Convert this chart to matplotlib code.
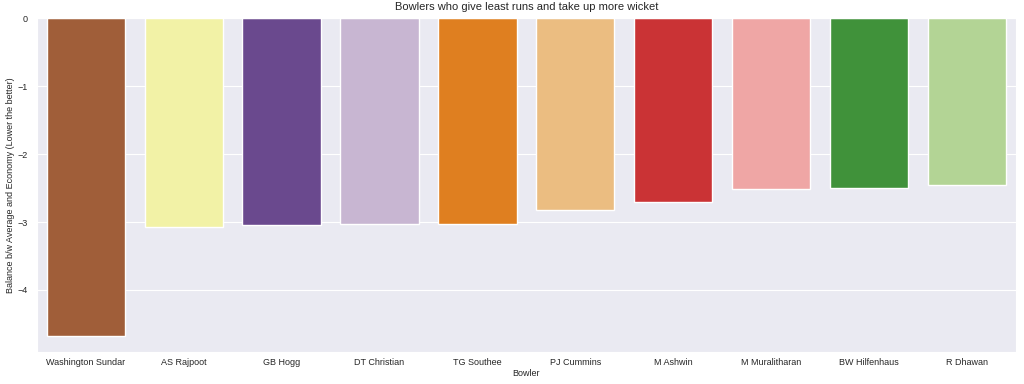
import matplotlib
matplotlib.use('Agg')
import matplotlib.pyplot as plt
import seaborn as sns

bowlers = ['Washington Sundar', 'AS Rajpoot', 'GB Hogg', 'DT Christian', 'TG Southee',
           'PJ Cummins', 'M Ashwin', 'M Muralitharan', 'BW Hilfenhaus', 'R Dhawan']
balance = [-4.68, -3.07, -3.04, -3.03, -3.03, -2.82, -2.71, -2.51, -2.50, -2.46]

sns.set_style('darkgrid')
plt.rcParams['font.family'] = ['Liberation Sans', 'DejaVu Sans']

# reversed Paired colours, first ten
paired = sns.color_palette('Paired', 12)[::-1][:10]

fig, ax = plt.subplots(figsize=(10.24, 3.84), dpi=100)
sns.barplot(x=bowlers, y=balance, hue=bowlers, palette=paired, legend=False, ax=ax)
ax.set_title('Bowlers who give least runs and take up more wicket', fontsize=8)
ax.set_xlabel('Bowler', fontsize=6.5, labelpad=1)
ax.set_ylabel('Balance b/w Average and Economy (Lower the better)', fontsize=6.5, labelpad=2)
ax.tick_params(axis='x', labelsize=6.5, pad=1)
ax.tick_params(axis='y', labelsize=6.5, pad=3)
plt.subplots_adjust(left=0.036, right=0.992, top=0.953, bottom=0.083)
fig.savefig('out.png')
